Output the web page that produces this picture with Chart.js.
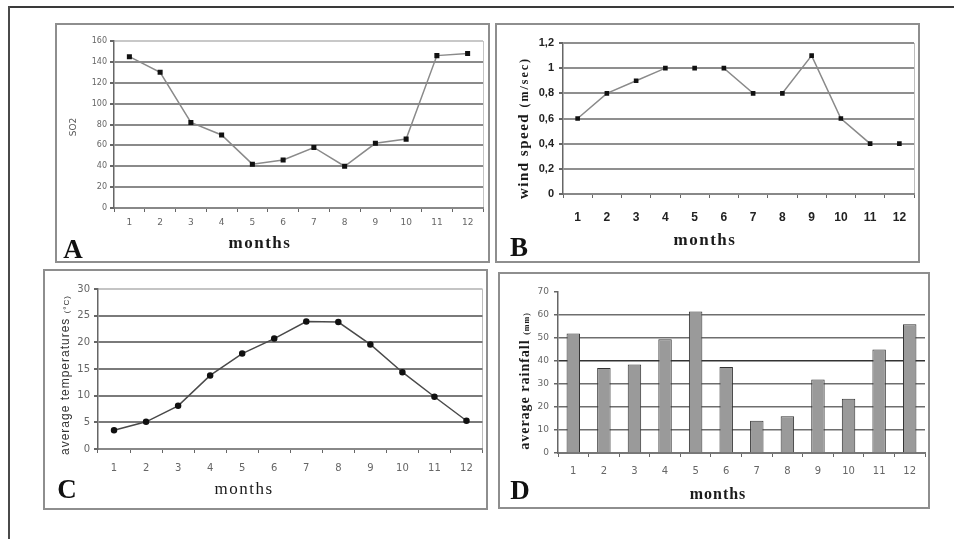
<!DOCTYPE html>
<html>
<head>
<meta charset="utf-8">
<script src="https://cdn.jsdelivr.net/npm/chart.js@4"></script>
<style>
  body { margin: 0; background: #fff; }
  #wrap { position: relative; width: 954px; height: 539px; overflow: hidden; background: #fff; }
  .frame-top { position: absolute; left: 9px; top: 6px; width: 945px; height: 2px; background: #3a3a3a; }
  .frame-left { position: absolute; left: 8px; top: 6px; width: 2px; height: 533px; background: #4a4a4a; }
  .panel { position: absolute; border: 2px solid #8e8e8e; box-sizing: border-box; }
  canvas { position: absolute; }
  .lbl { position: absolute; transform: translate(-50%, -50%); white-space: nowrap; color: #1a1a1a; }
  .rot { transform: translate(-50%, -50%) rotate(-90deg); }
  .letter { font: bold 27px "Liberation Serif", serif; color: #111; }
  .months { font: bold 17px "Liberation Serif", serif; letter-spacing: 1.5px; }
</style>
</head>
<body>
<div id="wrap">
  <div class="frame-top"></div>
  <div class="frame-left"></div>

  <div class="panel" style="left:55px;top:23px;width:435px;height:240px"></div>
  <div class="panel" style="left:495px;top:23px;width:425px;height:240px"></div>
  <div class="panel" style="left:43px;top:269px;width:445px;height:241px"></div>
  <div class="panel" style="left:498px;top:272px;width:432px;height:237px"></div>

  <canvas id="chartA" width="435" height="240" style="left:55px;top:23px"></canvas>
  <canvas id="chartB" width="425" height="240" style="left:495px;top:23px"></canvas>
  <canvas id="chartC" width="445" height="241" style="left:43px;top:269px"></canvas>
  <canvas id="chartD" width="432" height="237" style="left:498px;top:272px"></canvas>

  <!-- panel letters -->
  <div class="lbl letter" style="left:73px;top:249px">A</div>
  <div class="lbl letter" style="left:519px;top:247px">B</div>
  <div class="lbl letter" style="left:67px;top:489px">C</div>
  <div class="lbl letter" style="left:520px;top:490px">D</div>

  <!-- x titles -->
  <div class="lbl months" style="left:260px;top:243px">months</div>
  <div class="lbl months" style="left:705px;top:240px">months</div>
  <div class="lbl months" style="left:244px;top:489px;font-weight:normal">months</div>
  <div class="lbl months" style="left:718px;top:494px;font-size:16px;letter-spacing:1px">months</div>

  <!-- y titles -->
  <div class="lbl rot" style="left:73px;top:127px;font:9px 'DejaVu Sans',sans-serif;color:#555">SO2</div>
  <div class="lbl rot" style="left:523px;top:128px;font:bold 15px 'Liberation Serif',serif;letter-spacing:1.5px">wind speed <span style="font-size:12px;letter-spacing:2px">(m/sec)</span></div>
  <div class="lbl rot" style="left:65px;top:375px;font:12px 'Liberation Sans',sans-serif;letter-spacing:1px;color:#333">average temperatures <span style="font-size:8px">(°C)</span></div>
  <div class="lbl rot" style="left:525px;top:381px;font:bold 14px 'Liberation Serif',serif;letter-spacing:1px">average rainfall <span style="font-size:8px">(mm)</span></div>
</div>

<script>
// Data
const months = ["1", "2", "3", "4", "5", "6", "7", "8", "9", "10", "11", "12"];
const so2 = [145, 130, 82, 70, 42, 46, 58, 40, 62, 66, 146, 148];
const windSpeed = [0.6, 0.8, 0.9, 1.0, 1.0, 1.0, 0.8, 0.8, 1.1, 0.6, 0.4, 0.4];
const temperature = [3.5, 5.1, 8.1, 13.8, 17.9, 20.7, 23.9, 23.8, 19.6, 14.4, 9.8, 5.3];
const rainfall = [52, 37, 38.5, 49.5, 61.5, 37.4, 14, 16, 32, 23.6, 45, 56];

// y axis ranges [min, max, step]
const so2Range = [0, 160, 20];
const windRange = [0, 1.2, 0.2];
const tempRange = [0, 30, 5];
const rainRange = [0, 70, 10];

Chart.defaults.animation = false;
Chart.defaults.devicePixelRatio = 1;

// builds one panel; sizes keep the plot area where it sits in the picture
function makePanel(id, type, data, range, p) {
    return new Chart(document.getElementById(id), {
        type: type,
        data: {
            labels: months,
            datasets: [Object.assign({ data: data }, p.dataset)]
        },
        options: {
            responsive: false,
            layout: { padding: { top: p.padTop, right: p.padRight, left: 0, bottom: 0 } },
            plugins: { legend: { display: false }, tooltip: { enabled: false } },
            scales: {
                x: {
                    offset: true,
                    grid: {
                        offset: true,
                        color: ctx => (ctx.type === "scale" && p.rightEdge) ? p.rightEdge : "transparent",
                        lineWidth: 1,
                        tickColor: "#666",
                        tickLength: 4
                    },
                    border: { color: p.xAxisColor || "#888", width: 2 },
                    ticks: { font: p.xFont, color: p.tickColor, padding: p.xPad, maxRotation: 0, autoSkip: false },
                    afterFit: s => { s.height = p.xHeight; }
                },
                y: {
                    min: range[0],
                    max: range[1],
                    ticks: {
                        stepSize: range[2],
                        font: p.yFont,
                        color: p.tickColor,
                        padding: p.yPad,
                        callback: p.yFormat || (v => v)
                    },
                    grid: {
                        color: p.gridColor,
                        lineWidth: p.gridWidth || 2,
                        tickColor: "#666",
                        tickLength: 4
                    },
                    border: { color: "#666", width: 1.5 },
                    afterFit: s => { s.width = p.yWidth; }
                }
            }
        }
    });
}

// A - SO2
makePanel("chartA", "line", so2, so2Range, {
    padTop: 18, padRight: 7, yWidth: 59, xHeight: 55,
    xPad: 5, yPad: 3,
    xFont: { family: "DejaVu Sans", size: 9 },
    yFont: { family: "DejaVu Sans", size: 8 },
    tickColor: "#666",
    rightEdge: "#c4c4c4",
    gridColor: ctx => ctx.tick.value === 0 ? "transparent" : (ctx.tick.value === 160 ? "#c8c8c8" : "#8a8a8a"),
    dataset: {
        borderColor: "#8a8a8a", borderWidth: 1.5,
        pointStyle: "rect", pointRadius: 2.5,
        pointBackgroundColor: "#111", pointBorderColor: "#111"
    }
});

// B - wind speed
makePanel("chartB", "line", windSpeed, windRange, {
    padTop: 20, padRight: 6, yWidth: 68, xHeight: 69,
    xPad: 12, yPad: 5,
    xFont: { family: "Liberation Sans", size: 12, weight: "bold" },
    yFont: { family: "Liberation Sans", size: 11, weight: "bold" },
    tickColor: "#222",
    rightEdge: "#bdbdbd",
    yFormat: v => String(Math.round(v * 10) / 10).replace(".", ","),
    gridColor: ctx => ctx.tick.value === 0 ? "transparent" : "#8f8f8f",
    dataset: {
        borderColor: "#8a8a8a", borderWidth: 1.5,
        pointStyle: "rect", pointRadius: 2.2,
        pointBackgroundColor: "#111", pointBorderColor: "#111"
    }
});

// C - average temperatures
makePanel("chartC", "line", temperature, tempRange, {
    padTop: 20, padRight: 5, yWidth: 55, xHeight: 61,
    xPad: 9, yPad: 4,
    xFont: { family: "DejaVu Sans", size: 10 },
    yFont: { family: "DejaVu Sans", size: 10 },
    tickColor: "#666",
    rightEdge: "#bdbdbd",
    gridColor: ctx => ctx.tick.value === 0 ? "transparent" : (ctx.tick.value === 30 ? "#c4c4c4" : "#7a7a7a"),
    dataset: {
        borderColor: "#4a4a4a", borderWidth: 1.5,
        pointStyle: "circle", pointRadius: 2.5,
        pointBackgroundColor: "#111", pointBorderColor: "#111"
    }
});

// D - average rainfall
makePanel("chartD", "bar", rainfall, rainRange, {
    padTop: 20, padRight: 5, yWidth: 60, xHeight: 56,
    xPad: 8, yPad: 5,
    xFont: { family: "DejaVu Sans", size: 10 },
    yFont: { family: "DejaVu Sans", size: 9 },
    tickColor: "#666",
    xAxisColor: "#777",
    gridColor: ctx => {
        const v = ctx.tick.value;
        if (v === 0 || v === 70) return "transparent";
        return v === 40 ? "#333" : "#6e6e6e";
    },
    gridWidth: 1.5,
    dataset: {
        backgroundColor: "#9a9a9a", borderColor: "#333", borderWidth: 1,
        barPercentage: 0.44, categoryPercentage: 1
    }
});
</script>
</body>
</html>
